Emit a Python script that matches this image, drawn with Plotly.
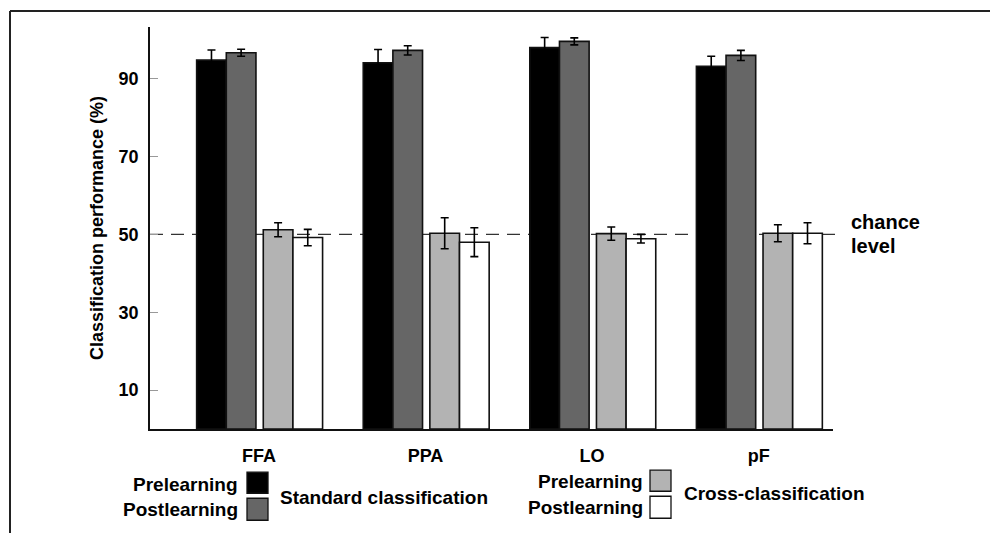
import plotly.graph_objects as go

categories = ["FFA", "PPA", "LO", "pF"]
std_pre = [94.8, 94.1, 98.0, 93.2]
std_pre_err = [2.6, 3.4, 2.6, 2.6]
std_post = [96.7, 97.3, 99.6, 96.0]
std_post_err = [0.9, 1.2, 0.9, 1.3]
cross_pre = [51.2, 50.3, 50.2, 50.3]
cross_pre_err = [1.8, 4.0, 1.7, 2.2]
cross_post = [49.2, 48.0, 48.9, 50.3]
cross_post_err = [2.1, 3.7, 1.1, 2.7]
chance = 50
y_ticks = [10, 30, 50, 70, 90]

W, H = 990, 533
L, R, T, B = 150, 833, 27, 428.8
FONT = "Liberation Sans, Arial, sans-serif"


def px(x):
    return (x - L) / (R - L)


def py(y):
    return (B - y) / (B - T)


bw = 0.178
series = [
    (std_pre, std_pre_err, "#000000", -0.285),
    (std_post, std_post_err, "#666666", -0.107),
    (cross_pre, cross_pre_err, "#b3b3b3", 0.115),
    (cross_post, cross_post_err, "#ffffff", 0.293),
]

fig = go.Figure()
for vals, errs, col, off in series:
    fig.add_trace(go.Bar(
        x=categories, y=vals, width=bw, offset=off - bw / 2,
        marker=dict(color=col, line=dict(color="#111111", width=1.6)),
        error_y=dict(type="data", array=errs, visible=True, color="#000000",
                     thickness=1.6, width=4),
        showlegend=False, hoverinfo="skip",
    ))

shapes = [
    dict(type="line", xref="paper", yref="y", x0=0, x1=px(838), y0=chance, y1=chance,
         line=dict(color="#333333", width=1.3, dash="13px,8px"), layer="below"),
    # frame
    dict(type="line", xref="paper", yref="paper", x0=px(10), x1=px(990), y0=py(11), y1=py(11),
         line=dict(color="#222222", width=2)),
    dict(type="line", xref="paper", yref="paper", x0=px(10), x1=px(10), y0=py(11), y1=py(533),
         line=dict(color="#222222", width=2)),
]

# legend squares
for (x0, x1, y0, y1, col) in [
    (247, 268, 472, 493, "#000000"),
    (247, 268, 498, 520, "#666666"),
    (650, 671, 470, 491, "#b3b3b3"),
    (650, 671, 496, 518, "#ffffff"),
]:
    shapes.append(dict(type="rect", xref="paper", yref="paper",
                       x0=px(x0), x1=px(x1), y0=py(y1), y1=py(y0),
                       fillcolor=col, line=dict(color="#111111", width=1.3)))

ann = []
def text(t, x, y, xanchor="left", size=19):
    ann.append(dict(text=t, xref="paper", yref="paper", x=px(x), y=py(y),
                    xanchor=xanchor, yanchor="middle", showarrow=False,
                    font=dict(family=FONT, size=size, color="#000000", weight="bold")))

text("Prelearning", 240, 484, "right")
text("Postlearning", 240, 509, "right")
text("Standard classification", 278, 497)
text("Prelearning", 645, 481, "right")
text("Postlearning", 645, 507, "right")
text("Cross-classification", 682, 493)
text("chance", 849, 222, size=20)
text("level", 849, 246, size=20)

fig.update_layout(
    width=W, height=H,
    margin=dict(l=L, r=W - R, t=T, b=H - B, pad=0),
    plot_bgcolor="white", paper_bgcolor="white",
    barmode="overlay",
    shapes=shapes, annotations=ann,
    font=dict(family=FONT, size=17, color="#000000", weight="bold"),
    xaxis=dict(range=[-0.654, 3.446], showline=True, linecolor="#111111", linewidth=2,
               ticks="", showgrid=False, zeroline=False, ticklabelstandoff=9,
               tickfont=dict(family=FONT, size=18, weight="bold")),
    yaxis=dict(range=[0, 103.3], showline=True, linecolor="#111111", linewidth=1.5,
               tickvals=y_ticks, ticks="inside", ticklen=8, tickcolor="#999999",
               tickwidth=1, showgrid=False, zeroline=False, ticklabelstandoff=6,
               tickfont=dict(family=FONT, size=18, weight="bold"),
               title=dict(text="Classification performance (%)", standoff=10,
                          font=dict(family=FONT, size=18, weight="bold"))),
)

fig.write_html(
    "out.html",
    config={"displayModeBar": False},
    post_script="document.body.style.margin='0';document.body.style.overflow='hidden';",
)
